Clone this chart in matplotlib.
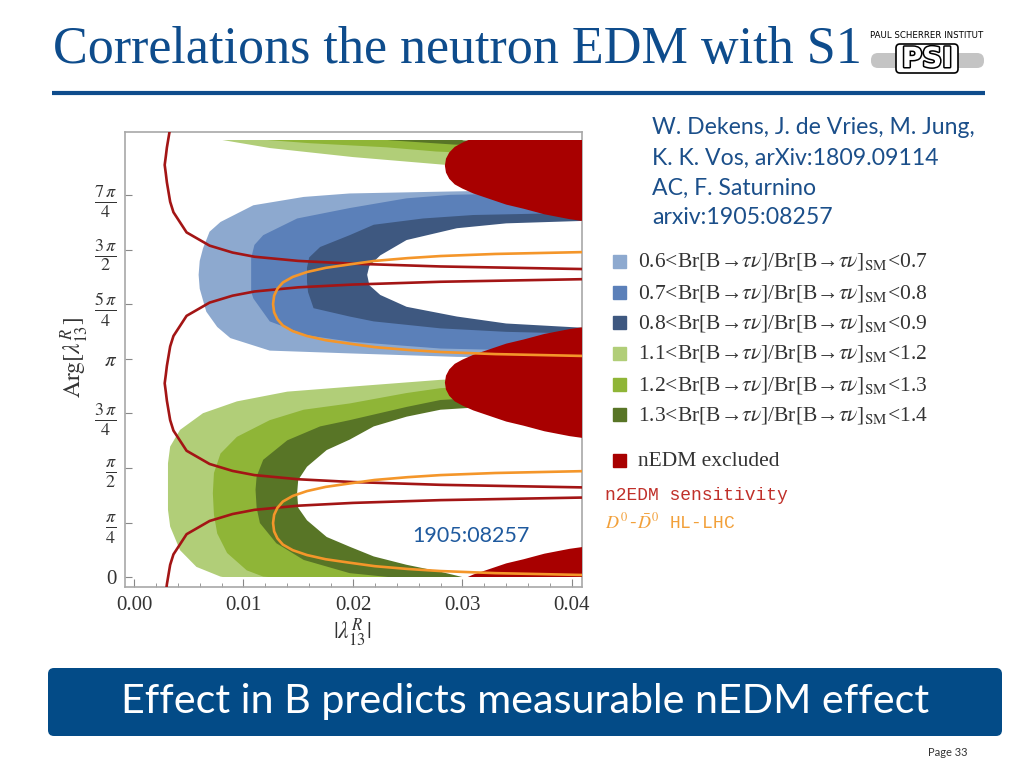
import numpy as np
import matplotlib
matplotlib.use("Agg")
import matplotlib.pyplot as plt
from matplotlib.patches import Rectangle, FancyBboxPatch
from matplotlib.ticker import MultipleLocator
import matplotlib.patheffects as pe

plt.rcParams['mathtext.fontset'] = 'stix'

# ---- contour boundaries (x = |lambda|, y = Arg in rad) ----
# blue: Br ratio 0.6 / 0.7 / 0.8 / 0.9 curves (top arm -> nose -> bottom arm)
blue_06_x = [0.042, 0.0295, 0.0197, 0.0155, 0.0109, 0.0079, 0.0069, 0.0063, 0.0060, 0.0059,
             0.0060, 0.0066, 0.0076, 0.0088, 0.0124, 0.0197, 0.0295, 0.042]
blue_06_y = [5.58, 5.55, 5.52, 5.47, 5.35, 5.11, 4.97, 4.73, 4.55, 4.35,
             4.15, 3.82, 3.60, 3.44, 3.26, 3.22, 3.17, 3.15]
blue_07_x = [0.042, 0.0289, 0.0249, 0.0197, 0.0149, 0.0118, 0.0110, 0.0107, 0.0107, 0.0107,
             0.0109, 0.0124, 0.0158, 0.0197, 0.0280, 0.042]
blue_07_y = [5.54, 5.50, 5.45, 5.31, 5.16, 4.92, 4.78, 4.59, 4.37, 4.11,
             4.01, 3.68, 3.48, 3.39, 3.29, 3.24]
blue_08_x = [0.042, 0.0371, 0.0310, 0.0264, 0.0219, 0.0197, 0.0170, 0.0160, 0.0158, 0.0158,
             0.0159, 0.0164, 0.0197, 0.0219, 0.0280, 0.0340, 0.042]
blue_08_y = [5.25, 5.23, 5.21, 5.16, 5.07, 4.92, 4.75, 4.60, 4.45, 4.25,
             4.10, 3.87, 3.75, 3.68, 3.58, 3.53, 3.50]
blue_09_x = [0.042, 0.0340, 0.0295, 0.0249, 0.0225, 0.0215, 0.0213, 0.0215, 0.0225, 0.0249,
             0.0295, 0.0340, 0.042]
blue_09_y = [5.13, 5.09, 5.02, 4.85, 4.63, 4.48, 4.35, 4.20, 4.06, 3.89,
             3.75, 3.65, 3.58]

# green: Br ratio 1.1 / 1.2 / 1.3 / 1.4 curves (lower arm runs below 0, wraps to 2 pi)
green_11_x = [0.042, 0.0280, 0.0197, 0.0140, 0.0094, 0.0063, 0.0042, 0.0033, 0.0031, 0.0031,
              0.0031, 0.0033, 0.0042, 0.0057, 0.0079, 0.0124, 0.0200, 0.0283, 0.042]
green_11_y = [2.92, 2.84, 2.74, 2.67, 2.53, 2.36, 2.12, 1.88, 1.64, 1.16,
              0.97, 0.73, 0.39, 0.15, 0.01, -0.11, -0.24, -0.35, -0.48]
green_12_x = [0.042, 0.0280, 0.0249, 0.0197, 0.0155, 0.0124, 0.0094, 0.0079, 0.0073, 0.0072,
              0.0073, 0.0076, 0.0085, 0.0103, 0.0118, 0.0160, 0.0231, 0.0276, 0.042]
green_12_y = [2.82, 2.72, 2.65, 2.50, 2.41, 2.26, 2.02, 1.78, 1.50, 1.21,
              0.90, 0.63, 0.35, 0.10, 0.01, -0.04, -0.10, -0.16, -0.26]
green_13_x = [0.042, 0.0280, 0.0249, 0.0197, 0.0170, 0.0140, 0.0118, 0.0112, 0.0111, 0.0112,
              0.0115, 0.0130, 0.0155, 0.0197, 0.0235, 0.0292, 0.042]
green_13_y = [2.68, 2.55, 2.45, 2.26, 2.17, 1.97, 1.69, 1.45, 1.26, 1.00,
              0.78, 0.49, 0.25, 0.06, 0.00, -0.06, -0.14]
green_14_x = [0.042, 0.0280, 0.0249, 0.0219, 0.0197, 0.0176, 0.0158, 0.0150, 0.0149, 0.0150,
              0.0158, 0.0176, 0.0197, 0.0219, 0.0249, 0.0280, 0.0301, 0.042]
green_14_y = [2.55, 2.41, 2.31, 2.17, 1.98, 1.83, 1.59, 1.40, 1.21, 1.00,
              0.82, 0.58, 0.44, 0.30, 0.18, 0.08, 0.00, -0.08]

# nEDM excluded lobes: half-height vs |lambda|, and lobe centres
red_x = [0.0284, 0.0285, 0.0288, 0.0293, 0.0300, 0.0310, 0.0325, 0.0340, 0.0356, 0.0375, 0.0398, 0.0430]
red_dy = [0.0, 0.10, 0.19, 0.27, 0.33, 0.40, 0.48, 0.56, 0.62, 0.70, 0.77, 0.84]
red_centers = [2.80, 5.92, -0.36]

# n2EDM sensitivity curves
n2_x = [0.0028, 0.0029, 0.0030, 0.0033, 0.0036, 0.0048, 0.0069, 0.0090, 0.0110, 0.0150, 0.0200, 0.0280, 0.0420]
n2_dy = [0.0, 0.12, 0.25, 0.53, 0.68, 0.97, 1.16, 1.26, 1.32, 1.38, 1.42, 1.46, 1.50]
n2_centers = [2.79, 5.93, -0.35]

# D0-D0bar HL-LHC curves
d0_x = [0.0127, 0.0128, 0.0131, 0.0136, 0.0145, 0.0158, 0.0175, 0.0197, 0.0220, 0.0250, 0.0280, 0.0330, 0.0420]
d0_dy = [0.0, 0.12, 0.22, 0.31, 0.39, 0.46, 0.52, 0.57, 0.62, 0.66, 0.69, 0.72, 0.75]
d0_centers = [0.78, 3.93]

x_ticks = [0.00, 0.01, 0.02, 0.03, 0.04]
x_ticklabels = ['0.00', '0.01', '0.02', '0.03', '0.04']
y_ticks = [k * np.pi / 4 for k in range(8)]
y_ticklabels = ['0', r'$\frac{\pi}{4}$', r'$\frac{\pi}{2}$', r'$\frac{3\,\pi}{4}$', r'$\pi$',
                r'$\frac{5\,\pi}{4}$', r'$\frac{3\,\pi}{2}$', r'$\frac{7\,\pi}{4}$']

legend_labels = ['0.6', '0.7', '0.8', '1.1', '1.2', '1.3']
legend_upper = ['0.7', '0.8', '0.9', '1.2', '1.3', '1.4']

blue_cols = ['#8DA9CF', '#5B80B9', '#3E5880']
green_cols = ['#B1CE78', '#8FB537', '#587526']
red_col = '#A80000'
n2_col = '#A31515'
d0_col = '#F4962A'
psi_blue = '#0E4C8C'

XLIM = (-0.00079, 0.0409)
YLIM = (-0.135, 6.408)

# ---- figure ----
fig = plt.figure(figsize=(10.24, 7.68), dpi=100)
bg = fig.add_axes([0, 0, 1, 1], zorder=0)
bg.set_xlim(0, 1024)
bg.set_ylim(768, 0)
bg.axis('off')

ax = fig.add_axes([125.4 / 1024, 1 - 586.7 / 768, (581.7 - 125.4) / 1024, (586.7 - 131.7) / 768], zorder=1)
ax.set_xlim(*XLIM)
ax.set_ylim(*YLIM)

# contours live on 0 <= Arg <= 2 pi inside the frame
clip = Rectangle((XLIM[0], 0.0), XLIM[1] - XLIM[0], 2 * np.pi, transform=ax.transData)


def fill_band(xs, ys, color, shift=0.0):
    px = list(xs) + [0.06, 0.06]
    py = [y + shift for y in ys] + [ys[-1] + shift, ys[0] + shift]
    poly = ax.fill(px, py, color=color, lw=0, zorder=2)[0]
    poly.set_clip_path(clip)


blue_curves = [(blue_06_x, blue_06_y), (blue_07_x, blue_07_y), (blue_08_x, blue_08_y), (blue_09_x, blue_09_y)]
for (bx, by), col in zip(blue_curves, blue_cols + ['white']):
    fill_band(bx, by, col)

green_curves = [(green_11_x, green_11_y), (green_12_x, green_12_y), (green_13_x, green_13_y), (green_14_x, green_14_y)]
for shift in [0.0, 2 * np.pi]:
    for (gx, gy), col in zip(green_curves, green_cols + ['white']):
        fill_band(gx, gy, col, shift)

# nEDM excluded
rx = np.array(red_x)
rdy = np.array(red_dy)
for c in red_centers:
    poly = ax.fill(np.concatenate([rx, rx[::-1]]), np.concatenate([c + rdy, c - rdy[::-1]]),
                   color=red_col, lw=0, zorder=3)[0]
    poly.set_clip_path(clip)

# n2EDM sensitivity
nx = np.array(n2_x)
ndy = np.array(n2_dy)
for c in n2_centers:
    ax.plot(np.concatenate([nx[::-1], nx[1:]]), np.concatenate([c + ndy[::-1], c - ndy[1:]]),
            color=n2_col, lw=1.9, zorder=4)

# D0 mixing
dx = np.array(d0_x)
ddy = np.array(d0_dy)
for c in d0_centers:
    ax.plot(np.concatenate([dx[::-1], dx[1:]]), np.concatenate([c + ddy[::-1], c - ddy[1:]]),
            color=d0_col, lw=1.9, zorder=5)

ax.text(0.0308, 0.60, '1905:08257', color='#1F5A9E', fontsize=15.5, family='Lato',
        ha='center', va='center', zorder=6)

# axes styling
for side in ['top', 'right', 'left', 'bottom']:
    ax.spines[side].set_color('#A8A8A8')
    ax.spines[side].set_linewidth(1.2)
ax.set_xticks(x_ticks)
ax.set_xticklabels(x_ticklabels, fontsize=15, family='Liberation Serif', color='#333333')
ax.xaxis.set_minor_locator(MultipleLocator(0.002))
ax.set_yticks(y_ticks)
ax.set_yticklabels(y_ticklabels, fontsize=15, family='Liberation Serif', color='#333333')
for lab in ax.get_yticklabels():
    if 'frac' in lab.get_text():
        lab.set_fontsize(18.5)
ax.tick_params(axis='both', which='both', direction='in', color='#888888', top=False, right=False)
ax.tick_params(axis='x', which='major', length=6, pad=7)
ax.tick_params(axis='x', which='minor', length=3)
ax.tick_params(axis='y', which='major', length=5, pad=6)

bg.text(352, 633, r'$|\lambda_{13}^{R}|$', fontsize=17, ha='center', va='center', color='#333333')
bg.text(75, 358, r'$\mathrm{Arg}[\lambda_{13}^{R}]$', fontsize=17, ha='center', va='center',
        rotation=90, color='#333333')

# ---- slide decorations ----
bg.text(53, 50, 'Correlations the neutron EDM with S1', fontsize=37.5, family='Liberation Serif',
        color=psi_blue, ha='left', va='center')
bg.plot([52, 985], [93, 93], color=psi_blue, lw=3.0, solid_capstyle='butt')

# PSI logo
bg.add_patch(FancyBboxPatch((871, 53), 113, 15, boxstyle='round,pad=0,rounding_size=7',
                            fc='#C4C4C4', ec='none', zorder=5))
bg.add_patch(FancyBboxPatch((896, 44), 62, 29, boxstyle='round,pad=0,rounding_size=4',
                            fc='white', ec='black', lw=1.2, zorder=6))
bg.text(927, 59, 'PSI', fontsize=20, fontweight='bold', family='DejaVu Sans', color='white',
        ha='center', va='center', zorder=7,
        path_effects=[pe.withStroke(linewidth=2.2, foreground='black')])
bg.text(927, 36, 'PAUL SCHERRER INSTITUT', fontsize=6.2, family='DejaVu Sans',
        color='black', ha='center', va='center', zorder=7)

cite = ['W. Dekens, J. de Vries, M. Jung,', 'K. K. Vos, arXiv:1809.09114', 'AC, F. Saturnino', 'arxiv:1905:08257']
for i, line in enumerate(cite):
    bg.text(652, 128 + 30 * i, line, fontsize=16.6, family='Lato', color='#1B4F8A', ha='left', va='center')

# legend
legend_y = [262, 293, 323, 354, 385, 415]
for y, col, lo, hi in zip(legend_y, blue_cols + green_cols, legend_labels, legend_upper):
    bg.add_patch(Rectangle((613, y - 7), 13, 13, color=col))
    bg.text(638, y, lo + r'<Br[B→$\tau\nu$]/Br[B→$\tau\nu$]$_{\mathrm{SM}}$<' + hi, fontsize=15.5,
            family='Liberation Serif', color='#333333', ha='left', va='center')
bg.add_patch(Rectangle((613, 454), 13, 13, color=red_col))
bg.text(638, 461, 'nEDM excluded', fontsize=15.5, family='Liberation Serif', color='#333333',
        ha='left', va='center')
bg.text(605, 496, 'n2EDM sensitivity', fontsize=13, family='Liberation Mono', color='#C0302A',
        ha='left', va='center')
bg.text(605, 523, r'$D^0$-$\bar{D}^0$ HL-LHC', fontsize=13, family='Liberation Mono', color='#F2A03A',
        ha='left', va='center')

# bottom banner
bg.add_patch(FancyBboxPatch((48, 668), 954, 68, boxstyle='round,pad=0,rounding_size=6',
                            fc='#034B87', ec='none'))
bg.text(525, 701, 'Effect in B predicts measurable nEDM effect', fontsize=29.7, family='Lato',
        color='white', ha='center', va='center')
bg.text(968, 753, 'Page 33', fontsize=8, family='Lato', color='#333333', ha='right', va='center')

fig.savefig('out.png', dpi=100)
